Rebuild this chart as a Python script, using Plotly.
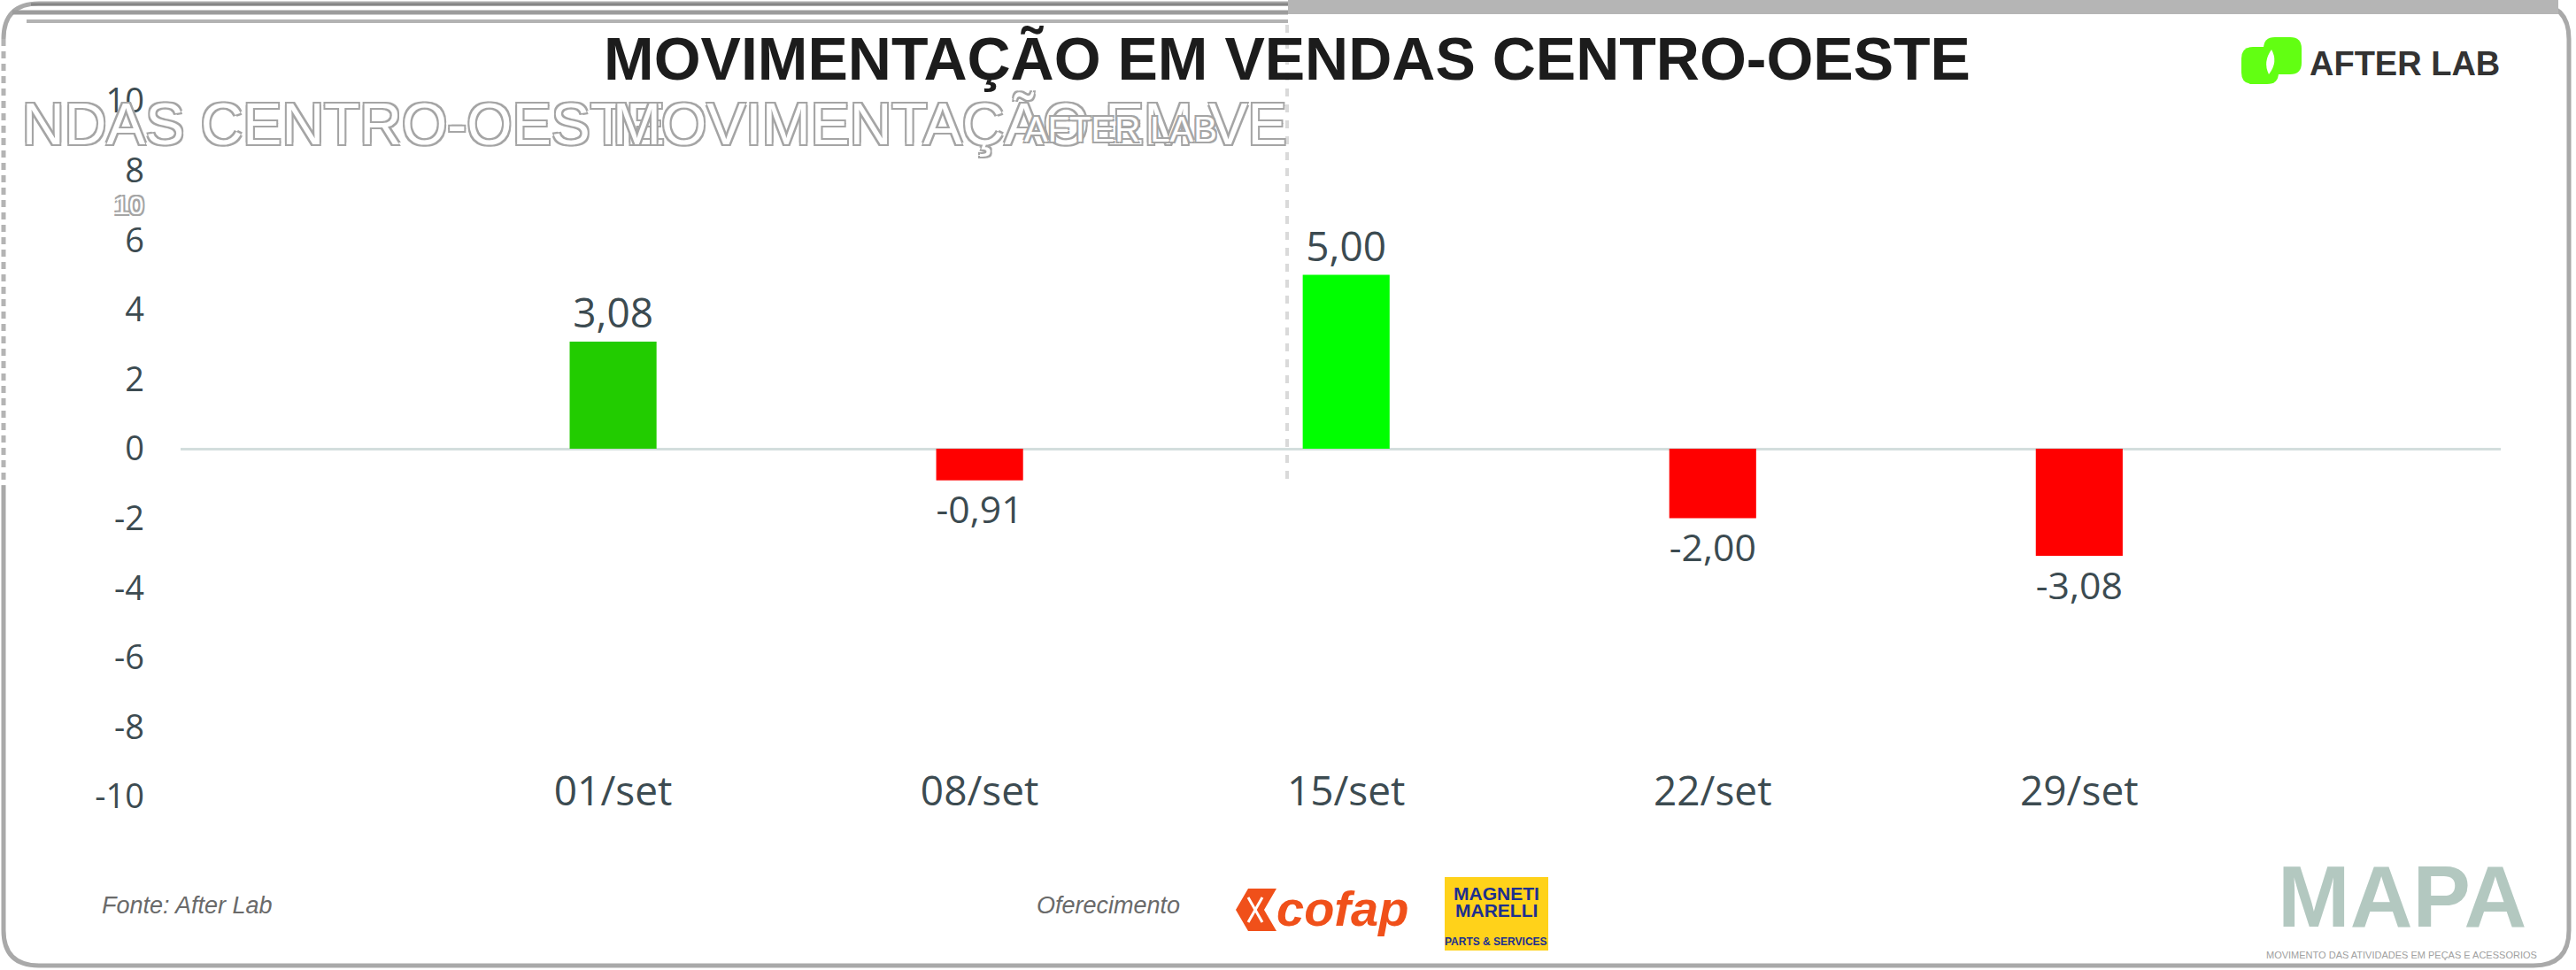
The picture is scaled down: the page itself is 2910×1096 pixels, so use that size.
import plotly.graph_objects as go

# ---------------- data ----------------
categories = ["01/set", "08/set", "15/set", "22/set", "29/set"]
values = [3.08, -0.91, 5.00, -2.00, -3.08]
bar_colors = ["#22cc00", "#ff0000", "#00ff00", "#ff0000", "#ff0000"]
y_tick_vals = [-10, -8, -6, -4, -2, 0, 2, 4, 6, 8, 10]
y_tick_text = ["-10", "-8", "-6", "-4", "-2", "0", "2", "4", "6", "8", "10"]
value_labels = [f"{v:.2f}".replace(".", ",") for v in values]

title_text = "MOVIMENTAÇÃO EM VENDAS CENTRO-OESTE"

# ---------------- geometry helpers ----------------
W, H = 2910, 1096
L, R, T, B = 204, 85, 114, 196
PW = W - L - R
PH = H - T - B


def px(x):
    return (x - L) / PW


def py(y):
    return (H - B - y) / PH


shapes = []
annotations = []


def add_line(x0, y0, x1, y1, color, width, dash="solid", layer="above"):
    shapes.append(dict(type="line", xref="paper", yref="paper",
                       x0=px(x0), y0=py(y0), x1=px(x1), y1=py(y1),
                       line=dict(color=color, width=width, dash=dash), layer=layer))


def add_rect(x0, y0, x1, y1, fill, layer="above"):
    shapes.append(dict(type="rect", xref="paper", yref="paper",
                       x0=px(x0), y0=py(y0), x1=px(x1), y1=py(y1),
                       fillcolor=fill, line=dict(width=0), layer=layer))


def P(x, y):
    return f"{px(x):.6f},{py(y):.6f}"


def rrect_path(x0, y0, x1, y1, r):
    return (f"M {P(x0 + r, y0)} L {P(x1 - r, y0)} Q {P(x1, y0)} {P(x1, y0 + r)} "
            f"L {P(x1, y1 - r)} Q {P(x1, y1)} {P(x1 - r, y1)} L {P(x0 + r, y1)} "
            f"Q {P(x0, y1)} {P(x0, y1 - r)} L {P(x0, y0 + r)} Q {P(x0, y0)} {P(x0 + r, y0)} Z")


def add_path(path, fill, line_color="rgba(0,0,0,0)", line_width=0, layer="above"):
    shapes.append(dict(type="path", xref="paper", yref="paper", path=path,
                       fillcolor=fill, line=dict(color=line_color, width=line_width),
                       layer=layer))


def add_text(x, y, text, size, color, family="Liberation Sans, Arial",
             xanchor="center", yanchor="middle", shadow=None):
    font = dict(family=family, size=size, color=color)
    if shadow:
        font["shadow"] = shadow
    annotations.append(dict(x=px(x), y=py(y), xref="paper", yref="paper",
                            text=text, showarrow=False, xanchor=xanchor,
                            yanchor=yanchor, font=font))


# ---------------- frame ----------------
frame = (f"M {P(4, 549)} L {P(4, 1051)} Q {P(4, 1091)} {P(44, 1091)} "
         f"L {P(2862, 1091)} Q {P(2902, 1091)} {P(2902, 1051)} "
         f"L {P(2902, 44)} Q {P(2902, 4)} {P(2862, 4)} L {P(44, 4)} "
         f"Q {P(4, 4)} {P(4, 44)}")
add_path(frame, "rgba(0,0,0,0)", "#a9a9a9", 5)
add_line(4, 44, 4, 549, "#b4b4b4", 5, dash="8px,6px")
add_rect(1455, 0, 2890, 16, "#b5b5b5")
add_line(35, 5, 1455, 5, "#858585", 3)
add_line(14, 14, 1455, 14, "#9c9c9c", 5)
add_line(30, 24, 1455, 24, "#b3b3b3", 4)
add_line(1454, 28, 1454, 542, "#dadada", 4, dash="9px,9px")

# ---------------- ghost (echo) text ----------------
ghost_shadow = ("-2px -2px 0 #a5a5a5, 2px -2px 0 #a5a5a5, "
                "-2px 2px 0 #a5a5a5, 2px 2px 0 #a5a5a5")
ghost_family = "Liberation Sans, Arial"
add_text(753, 140, "NDAS CENTRO-OESTE", 66, "#ffffff", ghost_family,
         xanchor="right", shadow=ghost_shadow)
add_text(690, 140, "MOVIMENTAÇÃO EM VE", 66, "#ffffff", ghost_family,
         xanchor="left", shadow=ghost_shadow)
add_text(1266, 146, "AFTER LAB", 40, "#ffffff", ghost_family, shadow=ghost_shadow)
add_text(145, 232, "10", 30, "#ffffff", ghost_family, shadow=ghost_shadow)

# ---------------- title ----------------
add_text(1454, 66, f"<b>{title_text}</b>", 68, "#1c1c1c")

# ---------------- AfterLab logo ----------------
add_path(rrect_path(2532, 53, 2574, 95, 13), "#62ff12")
add_path(rrect_path(2557, 42, 2600, 84, 13), "#62ff12")
add_path(f"M {P(2566, 56)} Q {P(2556, 70)} {P(2563, 84)} Q {P(2574, 70)} {P(2566, 56)} Z",
         "#ffffff")
add_text(2607, 72, "<b>AFTER LAB</b>", 38, "#333333", xanchor="left")

# ---------------- footer ----------------
add_text(113, 1023, "<i>Fonte: After Lab</i>", 27, "#6a6a6a", xanchor="left")
add_text(1169, 1023, "<i>Oferecimento</i>", 27, "#6a6a6a", xanchor="left")

# cofap
add_path(f"M {P(1396, 1028)} L {P(1410, 1004)} L {P(1442, 1004)} L {P(1428, 1028)} "
         f"L {P(1442, 1052)} L {P(1410, 1052)} Z", "#f0501a")
add_line(1410, 1014, 1426, 1042, "#ffffff", 3)
add_line(1426, 1014, 1410, 1042, "#ffffff", 3)
add_text(1516, 1026, "<b><i>cofap</i></b>", 56, "#f0501a")

# Magneti Marelli
add_rect(1632, 991, 1749, 1074, "#ffd21a")
add_text(1690, 1009, "<b>MAGNETI</b>", 21, "#1d2f8f", ghost_family)
add_text(1690, 1028, "<b>MARELLI</b>", 21, "#1d2f8f", ghost_family)
add_text(1690, 1064, "<b>PARTS &amp; SERVICES</b>", 12, "#1d2f8f", ghost_family)

# MAPA
add_text(2713, 1070, "<b>MAPA</b>", 98, "#b3c8c0", ghost_family, yanchor="bottom")
add_text(2713, 1071, "MOVIMENTO DAS ATIVIDADES EM PEÇAS E ACESSORIOS", 11, "#a0a0a0",
         yanchor="top")

# ---------------- chart ----------------
fig = go.Figure(go.Bar(
    x=categories,
    y=values,
    width=0.237,
    marker=dict(color=bar_colors, line=dict(width=0)),
    text=value_labels,
    textposition="outside",
    textfont=dict(family="Open Sans", size=46, color="#3c4b51"),
    cliponaxis=False,
    hoverinfo="skip",
))

fig.update_layout(
    width=W,
    height=H,
    margin=dict(l=L, r=R, t=T, b=B, pad=0),
    paper_bgcolor="#ffffff",
    plot_bgcolor="#ffffff",
    showlegend=False,
    shapes=shapes,
    annotations=annotations,
    xaxis=dict(
        type="category",
        range=[-1.18, 5.15],
        showgrid=False,
        showline=False,
        zeroline=False,
        ticks="",
        anchor="free",
        position=0.047,
        tickfont=dict(family="Open Sans", size=46, color="#3c4b51"),
    ),
    yaxis=dict(
        range=[-10, 10],
        tickvals=y_tick_vals,
        ticktext=y_tick_text,
        showgrid=False,
        showline=False,
        zeroline=True,
        zerolinecolor="#d3dedd",
        zerolinewidth=3,
        ticks="",
        ticklabelstandoff=40,
        tickfont=dict(family="Open Sans", size=38, color="#3c4b51"),
    ),
)

fig.write_html("out.html", config={"displayModeBar": False},
               post_script="document.body.style.margin='0';")
